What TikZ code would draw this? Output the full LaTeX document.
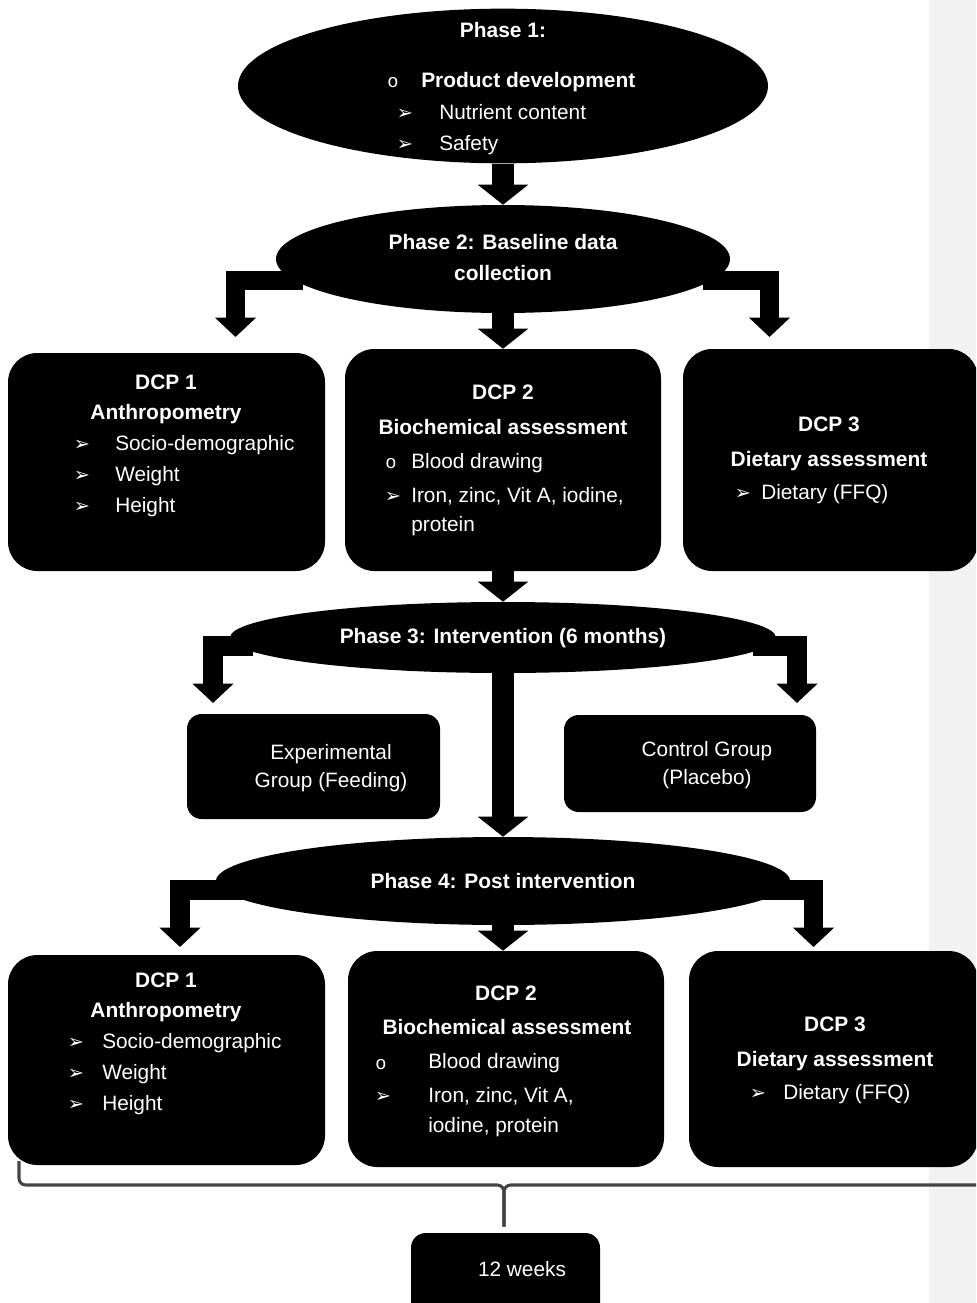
\documentclass[tikz,border=0pt]{standalone}
\usepackage{fontspec}
\setmainfont{Liberation Sans}
\newfontfamily\symfont{DejaVu Sans}
\newfontfamily\bulfont{Liberation Mono}
\usetikzlibrary{arrows.meta, positioning, shapes.geometric, fit}
\definecolor{stripgrey}{HTML}{F2F2F2}
\definecolor{bracegrey}{HTML}{454545}

\begin{document}
\begin{tikzpicture}[x=0.75pt, y=-0.75pt,
    phase/.style={ellipse, fill=black, inner sep=0pt},
    dcpbox/.style={rectangle, rounded corners=22pt, fill=black, inner sep=0pt},
    grpbox/.style={rectangle, rounded corners=11pt, fill=black, inner sep=0pt},
    txt/.style={text=white, inner sep=0pt, anchor=mid, yshift=-2.5pt, font=\fontsize{15.6}{18}\selectfont},
    hd/.style={txt, font=\fontsize{15.7}{18}\selectfont\bfseries},
    item/.style={txt, anchor=mid west},
    arr/.style={txt, font=\symfont\fontsize{14.5}{16}\selectfont},
    circ/.style={txt, font=\bulfont\fontsize{14}{16}\selectfont},
    bigarrow/.style={line width=17pt, -{Triangle[length=15pt, width=37pt]}},
    sidearrow/.style={line width=14.5pt, -{Triangle[length=14.5pt, width=30pt]}},
    brace/.style={draw=bracegrey, line width=2.3pt, rounded corners=5pt}]
    \useasboundingbox (0,0) rectangle (976,1303);
    \clip (0,0) rectangle (976,1303);
    \fill[stripgrey] (929,0) rectangle (976,1303);

    % phases
    \node[phase, minimum width=397.5pt, minimum height=116pt] (ph1) at (503,86) {};
    \node[phase, minimum width=340.5pt, minimum height=81pt] (ph2) at (503,259) {};
    \node[phase, minimum width=409.5pt, minimum height=53.25pt] (ph3) at (503,637.5) {};
    \node[phase, minimum width=430.5pt, minimum height=66pt] (ph4) at (503,881) {};

    % boxes
    \node[dcpbox, fit={(8,353) (325,571)}] (d1) {};
    \node[dcpbox, fit={(345,349) (661,571)}] (d2) {};
    \node[dcpbox, fit={(683,349) (978,571)}] (d3) {};
    \node[grpbox, fit={(187,714) (440,819)}] (g1) {};
    \node[grpbox, fit={(564,715) (816,812)}] (g2) {};
    \node[dcpbox, fit={(8,955) (325,1165)}] (d4) {};
    \node[dcpbox, fit={(348,951) (664,1167)}] (d5) {};
    \node[dcpbox, fit={(689,951) (978,1167)}] (d6) {};
    \node[grpbox, fit={(411,1233) (600,1320)}] (wk) {};

    % arrows
    \coordinate (a2l) at (235.5,337);
    \coordinate (a2r) at (769.5,337);
    \coordinate (a3l) at (213,703);
    \coordinate (a3r) at (797,703);
    \coordinate (a4l) at (180,947);
    \coordinate (a4r) at (813.5,947);
    \draw[bigarrow] (ph1.south) -- (ph2.north);
    \draw[sidearrow] ([shift={(-200,21.5)}]ph2.center) -| (a2l);
    \draw[sidearrow] ([shift={(200,21.5)}]ph2.center) -| (a2r);
    \draw[bigarrow] ([yshift=1pt]ph2.south) -- (d2.north);
    \draw[bigarrow] (d2.south) -- (ph3.north);
    \draw[sidearrow] ([shift={(-250,8.5)}]ph3.center) -| (a3l);
    \draw[sidearrow] ([shift={(250,8.5)}]ph3.center) -| (a3r);
    \draw[bigarrow] ([yshift=1pt]ph3.south) -- (ph4.north);
    \draw[sidearrow] ([shift={(-260,9)}]ph4.center) -| (a4l);
    \draw[sidearrow] ([shift={(260,9)}]ph4.center) -| (a4r);
    \draw[bigarrow] ([yshift=1pt]ph4.south) -- (ph4.south |- d5.north);

    % brace
    \coordinate (brl) at (19,1161);
    \coordinate (brr) at (990,1185);
    \coordinate (brm) at (504,1185);
    \draw[brace] (brl) |- (brm) -- ([yshift=4.5pt]wk.north -| brm);
    \draw[brace] (brr) -- (brm) -- ([yshift=4.5pt]wk.north -| brm);

    % phase texts
    \node[hd] (ph1t) at (503,31) {Phase 1:};
    \node[circ] (ph1c) at (393,81) {o};
    \node[hd, anchor=mid west] (ph1a) at (421,81) {Product development};
    \foreach \t [count=\i] in {Nutrient content, Safety} {
        \node[arr] (ph1b\i) at (405,82+31*\i) {➢};
        \node[item] (ph1i\i) at (439,82+31*\i) {\t};
    }
    \node[hd] (ph2t) at (503,243) {Phase 2: Baseline data};
    \node[hd] (ph2u) at (503,274) {collection};
    \node[hd] (ph3t) at (503,637) {Phase 3: Intervention (6 months)};
    \node[hd] (ph4t) at (503,882) {Phase 4: Post intervention};

    % baseline boxes
    \node[hd] (d1t) at (166,383) {DCP 1};
    \node[hd] (d1u) at (166,413) {Anthropometry};
    \foreach \t [count=\i] in {Socio-demographic, Weight, Height} {
        \node[arr] (d1b\i) at (82,413+31*\i) {➢};
        \node[item] (d1i\i) at (115,413+31*\i) {\t};
    }
    \node[hd] (d2t) at (503,393) {DCP 2};
    \node[hd] (d2u) at (503,428) {Biochemical assessment};
    \node[circ] (d2c) at (391,462) {o};
    \node[item] (d2i1) at (411,462) {Blood drawing};
    \node[arr] (d2b) at (393,496) {➢};
    \node[item] (d2i2) at (411,496) {Iron, zinc, Vit A, iodine,};
    \node[item] (d2i3) at (411,525) {protein};
    \node[hd] (d3t) at (829,425) {DCP 3};
    \node[hd] (d3u) at (829,460) {Dietary assessment};
    \node[arr] (d3b) at (743,493) {➢};
    \node[item] (d3i) at (761,493) {Dietary (FFQ)};

    % groups
    \node[txt] (g1t) at (331,753) {Experimental};
    \node[txt] (g1u) at (331,781) {Group (Feeding)};
    \node[txt] (g2t) at (707,750) {Control Group};
    \node[txt] (g2u) at (707,778) {(Placebo)};

    % post boxes
    \node[hd] (d4t) at (166,981) {DCP 1};
    \node[hd] (d4u) at (166,1011) {Anthropometry};
    \foreach \t [count=\i] in {Socio-demographic, Weight, Height} {
        \node[arr] (d4b\i) at (76,1011+31*\i) {➢};
        \node[item] (d4i\i) at (102,1011+31*\i) {\t};
    }
    \node[hd] (d5t) at (506,994) {DCP 2};
    \node[hd] (d5u) at (507,1028) {Biochemical assessment};
    \node[circ] (d5c) at (381,1063) {o};
    \node[item] (d5i1) at (428,1062) {Blood drawing};
    \node[arr] (d5b) at (383,1096) {➢};
    \node[item] (d5i2) at (428,1096) {Iron, zinc, Vit A,};
    \node[item] (d5i3) at (428,1126) {iodine, protein};
    \node[hd] (d6t) at (835,1025) {DCP 3};
    \node[hd] (d6u) at (835,1060) {Dietary assessment};
    \node[arr] (d6b) at (758,1093) {➢};
    \node[item] (d6i) at (783,1093) {Dietary (FFQ)};

    \node[txt] (wkt) at (522,1270) {12 weeks};
\end{tikzpicture}
\end{document}
